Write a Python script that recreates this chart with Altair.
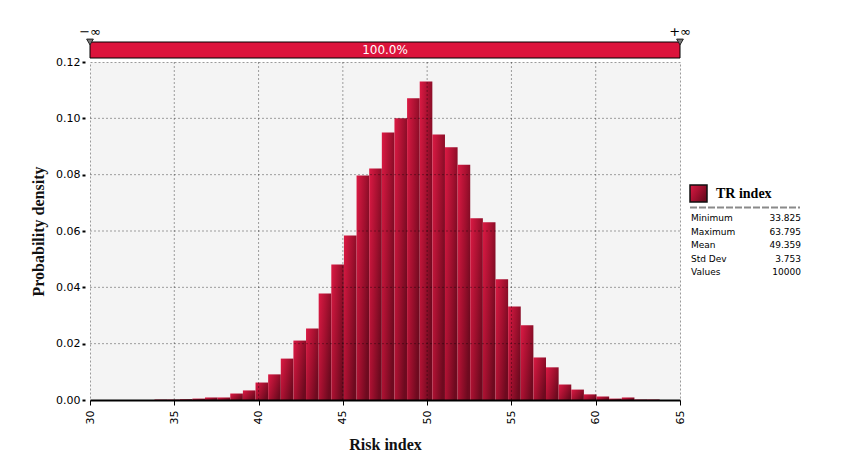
import altair as alt
import pandas as pd

# ---- data ----
stat_min = 33.825
stat_max = 63.795
n_bins = 40
density = [0.0002, 0.0002, 0.0003, 0.0005, 0.0009, 0.0009, 0.0023, 0.0034, 0.0062, 0.0091,
           0.0147, 0.0211, 0.0254, 0.0378, 0.0481, 0.0584, 0.0797, 0.0822, 0.0950, 0.1000,
           0.1071, 0.1131, 0.0943, 0.0897, 0.0835, 0.0645, 0.0631, 0.0429, 0.0332, 0.0265,
           0.0151, 0.0116, 0.0055, 0.0037, 0.0020, 0.0012, 0.0005, 0.0009, 0.0002, 0.0002]
x_ticks = [30, 35, 40, 45, 50, 55, 60, 65]
y_ticks = [0.0, 0.02, 0.04, 0.06, 0.08, 0.10, 0.12]
stat_names = ["Minimum", "Maximum", "Mean", "Std Dev", "Values"]
stat_values = ["33.825", "63.795", "49.359", "3.753", "10000"]
series_name = "TR index"
x_title = "Risk index"
y_title = "Probability density"
band_label = "100.0%"
band_end_labels = ["\u2212\u221e", "+\u221e"]

# ---- tables ----
w = (stat_max - stat_min) / n_bins
bins = pd.DataFrame({
    "lo": [stat_min + i * w for i in range(n_bins)],
    "hi": [stat_min + (i + 1) * w for i in range(n_bins)],
    "density": density,
    "zero": [0.0] * n_bins,
})
band = pd.DataFrame({"lo": [x_ticks[0]], "hi": [x_ticks[-1]],
                     "mid": [(x_ticks[0] + x_ticks[-1]) / 2], "label": [band_label]})
ends = pd.DataFrame({"lo": [x_ticks[0], x_ticks[-1]], "label": band_end_labels})
stats = pd.DataFrame({"row": list(range(len(stat_names))), "name": stat_names, "value": stat_values})
title_df = pd.DataFrame({"label": [series_name]})
xgrid = pd.DataFrame({"lo": x_ticks[1:-1]})
ygrid = pd.DataFrame({"density": y_ticks[1:-1]})

bar_grad = alt.Gradient(
    gradient="linear",
    stops=[alt.GradientStop(color="#dc1a44", offset=0),
           alt.GradientStop(color="#a3102f", offset=0.55),
           alt.GradientStop(color="#6e0a1f", offset=1)],
    x1=0, y1=0, x2=1, y2=0.6,
)

xscale = alt.Scale(domain=[x_ticks[0], x_ticks[-1]], nice=False, zero=False)
yscale = alt.Scale(domain=[y_ticks[0], y_ticks[-1]], nice=False, zero=False)

xaxis = alt.Axis(values=x_ticks, title=x_title, labelAngle=270, labelPadding=5,
                 tickSize=5, tickColor="#000", domainColor="#000", domainWidth=2,
                 grid=False, titlePadding=13, zindex=1)
yaxis = alt.Axis(values=y_ticks, format=".2f", title=y_title, offset=5, domain=False,
                 tickSize=3, tickWidth=2, tickColor="#000", labelPadding=2,
                 grid=False, titlePadding=9, zindex=1)

X = lambda f: alt.X(f, scale=xscale, axis=xaxis)
Y = lambda f: alt.Y(f, scale=yscale, axis=yaxis)

bars = alt.Chart(bins).mark_rect(fill=bar_grad, strokeWidth=0).encode(
    x=X("lo:Q"),
    x2="hi:Q",
    y=Y("density:Q"),
    y2="zero:Q",
)

grid_style = dict(color="#000", opacity=0.36, strokeDash=[2, 2], strokeWidth=1)
vgrid = alt.Chart(xgrid).mark_rule(**grid_style).encode(x=X("lo:Q"))
hgrid = alt.Chart(ygrid).mark_rule(**grid_style).encode(y=Y("density:Q"))

band_rect = alt.Chart(band).mark_rect(fill="#dc143c", stroke="#000", strokeWidth=1).encode(
    x=X("lo:Q"),
    x2="hi:Q",
    y=alt.value(-20),
    y2=alt.value(-4),
)
band_text = alt.Chart(band).mark_text(color="#ffffff", font="DejaVu Sans", fontSize=12,
                                      baseline="middle").encode(
    x=X("mid:Q"),
    y=alt.value(-12),
    text="label:N",
)
markers = alt.Chart(ends).mark_point(shape="triangle-down", filled=True, fill="#7a7a7a",
                                     stroke="#222", strokeWidth=1, size=45, opacity=1).encode(
    x=X("lo:Q"),
    y=alt.value(-20),
)
end_text = alt.Chart(ends).mark_text(color="#000", font="DejaVu Sans", fontSize=13,
                                     baseline="middle").encode(
    x=X("lo:Q"),
    y=alt.value(-30),
    text="label:N",
)

# ---- legend block ----
swatch = alt.Chart(title_df).mark_rect(fill=bar_grad, stroke="#111", strokeWidth=1.5).encode(
    x=alt.value(600), x2=alt.value(617), y=alt.value(123), y2=alt.value(140),
)
leg_title = alt.Chart(title_df).mark_text(font="Liberation Serif", fontSize=14, fontWeight="bold",
                                          align="left", baseline="middle", color="#000").encode(
    x=alt.value(626), y=alt.value(131.5), text="label:N",
)
leg_line = alt.Chart(title_df).mark_rule(color="#8a8a8a", strokeWidth=2, strokeDash=[7, 2]).encode(
    x=alt.value(600), x2=alt.value(710), y=alt.value(145.5),
)
stat_base = alt.Chart(stats).transform_calculate(ypx="156 + 13.5 * datum.row")
stat_names_t = stat_base.mark_text(font="DejaVu Sans", fontSize=9, align="left",
                                   baseline="middle", color="#000").encode(
    x=alt.value(601), y=alt.Y("ypx:Q", scale=None, axis=None), text="name:N",
)
stat_vals_t = stat_base.mark_text(font="DejaVu Sans", fontSize=9, align="right",
                                  baseline="middle", color="#000").encode(
    x=alt.value(711), y=alt.Y("ypx:Q", scale=None, axis=None), text="value:N",
)

chart = alt.layer(
    bars, vgrid, hgrid, band_rect, band_text, markers, end_text,
    swatch, leg_title, leg_line, stat_names_t, stat_vals_t,
).properties(
    width=590, height=338,
    autosize=alt.AutoSizeParams(type="none"),
    padding={"left": 82, "top": 54, "right": 167, "bottom": 65},
    background="#ffffff",
).configure_view(
    fill="#f4f4f4", stroke="#9a9a9a", strokeDash=[2, 2], strokeWidth=1,
).configure_axis(
    labelFont="DejaVu Sans", labelFontSize=11, labelColor="#000",
    titleFont="Liberation Serif", titleFontSize=16, titleFontWeight="bold", titleColor="#111",
)

chart.save("out.html", embed_options={"renderer": "svg", "actions": False})
